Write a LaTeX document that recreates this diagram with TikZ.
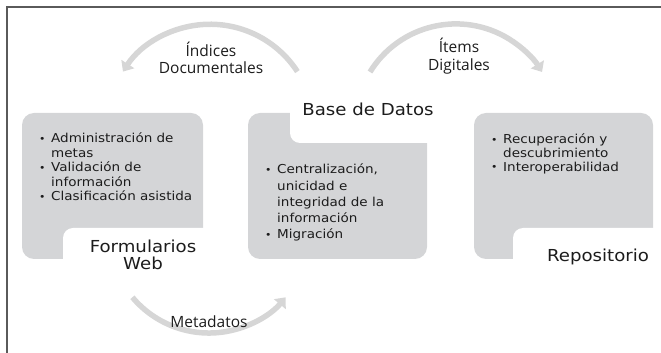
\documentclass[tikz,border=0pt]{standalone}
\usepackage{fontspec}
\usetikzlibrary{arrows.meta}
\newfontfamily\boxfont[FakeStretch=1.1]{DejaVu Sans}
\newfontfamily\arcfont{Open Sans}
\definecolor{boxgray}{RGB}{212,213,215}
\definecolor{arcgray}{RGB}{214,214,214}
\definecolor{txt}{RGB}{28,28,28}
\definecolor{framec}{RGB}{90,90,90}
\newcommand{\bitem}[1]{\par\noindent\hangindent=12pt\hangafter=1\makebox[12pt][l]{\raisebox{0.05ex}{\scalebox{0.8}{•}}}#1}
\tikzset{
  graybox/.style={fill=boxgray, rounded corners=12pt, draw=none, inner sep=0pt},
  cutbox/.style={fill=white, rounded corners=10pt, draw=none, inner sep=0pt},
  titletext/.style={text=txt, font=\boxfont\fontsize{16.5}{16.5}\selectfont, align=center, inner sep=0pt},
  arclabel/.style={text=txt, font=\arcfont\fontsize{15.5}{17.5}\selectfont, align=center, inner sep=0pt},
  bullets/.style={text=txt, inner sep=0pt, anchor=base west},
  arcarrow/.style={draw=arcgray, line width=5.5pt, -{Triangle[width=15pt,length=9pt]}},
  framel/.style={draw=framec, line width=1.4pt}
}
\begin{document}
\begin{tikzpicture}[x=1pt,y=1pt]
\useasboundingbox (0,0) rectangle (661,353);
% frame
\coordinate (fb) at (7,0);
\coordinate (fc) at (7,346);
\coordinate (fr) at (661,346);
\draw[framel] (fb) -- (fc) -- (fr);
% boxes
\node[graybox, minimum width=181pt, minimum height=146pt] (fwbox) at (112.5,167) {};
\node[cutbox, minimum width=160pt, minimum height=70pt] (fwcut) at (143,90) {};
\node[graybox, minimum width=179pt, minimum height=146pt] (dbbox) at (337.5,167) {};
\node[cutbox, minimum width=160pt, minimum height=70pt] (dbcut) at (370,245) {};
\node[graybox, minimum width=179pt, minimum height=146pt] (rpbox) at (563.5,167) {};
\node[cutbox, minimum width=160pt, minimum height=70pt] (rpcut) at (593,90) {};
% titles
\node[titletext] (fwt) at (143,98) {Formularios\\Web};
\node[titletext] (dbt) at (368,244) {Base de Datos};
\node[titletext] (rpt) at (598,96) {Repositorio};
% bullets
\node[bullets] (fwl) at (39,210) {\parbox[t]{160pt}{\boxfont\fontsize{12.3}{14.5}\selectfont
  \bitem{Administración de\newline metas}
  \bitem{Validación de\newline información}
  \bitem{Clasificación asistida}}};
\node[bullets] (dbl) at (265,179) {\parbox[t]{160pt}{\boxfont\fontsize{12.3}{16.2}\selectfont
  \bitem{Centralización,\newline unicidad e\newline integridad de la\newline información}
  \bitem{Migración}}};
\node[bullets] (rpl) at (491,209) {\parbox[t]{160pt}{\boxfont\fontsize{12.3}{13.6}\selectfont
  \bitem{Recuperación y\newline descubrimiento}
  \bitem{Interoperabilidad}}};
% arcs
\coordinate (a1s) at (297.4,281.4);
\draw[arcarrow] (a1s) arc[start angle=33, end angle=147, radius=104];
\coordinate (a2s) at (370,281);
\draw[arcarrow] (a2s) arc[start angle=148.4, end angle=31.6, radius=101];
\coordinate (a3s) at (132.4,55.7);
\draw[arcarrow] (a3s) arc[start angle=220, end angle=320, radius=100];
% arc labels
\node[arclabel] (l1) at (211,295) {Índices\\Documentales};
\node[arclabel] (l2) at (459,297) {Ítems\\Digitales};
\node[arclabel] (l3) at (209,31) {Metadatos};
\end{tikzpicture}
\end{document}
